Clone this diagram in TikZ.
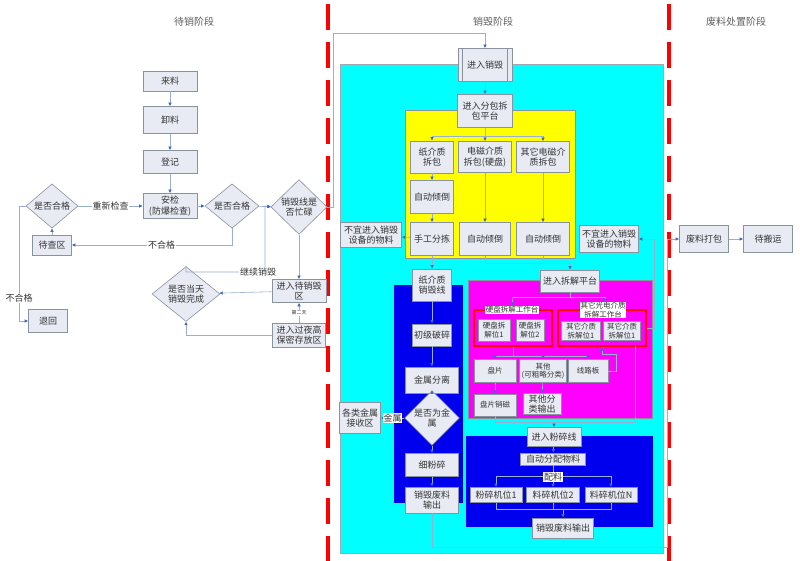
\documentclass[tikz,border=0pt]{standalone}
\usepackage{fontspec}
\newfontfamily\cjk{Noto Sans CJK SC}
\usetikzlibrary{arrows.meta,shapes.geometric,calc}
\definecolor{boxfill}{HTML}{E8EBF4}
\definecolor{boxdraw}{HTML}{8A929E}
\definecolor{txt}{HTML}{333333}
\definecolor{lnk}{HTML}{9AAFD0}
\definecolor{tipc}{HTML}{3C68C0}
\definecolor{cyanbg}{HTML}{00FFFF}
\definecolor{yel}{HTML}{FFFF00}
\definecolor{mag}{HTML}{FF00FF}
\definecolor{blu}{HTML}{0000EE}
\definecolor{ttlc}{HTML}{606060}
\begin{document}
\begin{tikzpicture}[x=1pt,y=-1pt,
 box/.style={draw=boxdraw, fill=boxfill, text=txt, font=\cjk\fontsize{9}{10.5}\selectfont, align=center, inner sep=0pt, line width=0.6pt},
 sbox/.style={box, font=\cjk\fontsize{7.5}{8.5}\selectfont},
 dia/.style={diamond, draw=boxdraw, fill=boxfill, text=txt, font=\cjk\fontsize{9}{10.5}\selectfont, align=center, inner sep=0pt, line width=0.6pt},
 redbox/.style={draw=red, line width=2.5pt, inner sep=0pt},
 lk/.style={draw=lnk, line width=0.6pt},
 ar/.style={lk, -{Latex[length=3.5pt,width=3.5pt,color=tipc]}},
 lab/.style={fill=white, text=txt, font=\cjk\fontsize{9}{10.5}\selectfont, inner sep=0.6pt, align=center},
 slab/.style={lab, font=\cjk\fontsize{7.5}{8.5}\selectfont},
 ttl/.style={text=ttlc, font=\cjk\fontsize{10}{11}\selectfont},
 reddash/.style={draw=red, line width=3.5pt, dash pattern=on 26pt off 12pt, dash phase=-4pt}
]
\useasboundingbox (0,0) rectangle (800,561);
\fill[white] (0,0) rectangle (800,561);

% titles
\node[ttl] (t1) at (194,22) {待销阶段};
\node[ttl] (t2) at (493,22) {销毁阶段};
\node[ttl] (t3) at (736,22) {废料处置阶段};

% coloured regions
\draw[fill=cyanbg, draw=boxdraw!80, line width=0.6pt] (340,64) rectangle (663,553);
\draw[fill=yel, draw=boxdraw, line width=0.6pt] (405,110) rectangle (575,258);
\fill[blu] (394,285) rectangle (463,503);
\draw[fill=mag, draw=boxdraw, line width=0.5pt] (468,280) rectangle (652,418);
\fill[blu] (466,436) rectangle (653,527);

% red dashed stage separators
\draw[reddash] (328,0) -- (328,561);
\draw[reddash] (669,0) -- (669,561);

% ---------- stage 1 ----------
\node[box, minimum width=54, minimum height=20] (ll) at (170,81) {来料};
\node[box, minimum width=54, minimum height=27] (xl) at (170,120) {卸料};
\node[box, minimum width=54, minimum height=23] (dj) at (170,162) {登记};
\node[box, minimum width=54, minimum height=25] (aj) at (170,206) {安检\\(防爆检查)};
\node[dia, minimum width=52, minimum height=25] (hg1) at (52,206) {是否合格};
\node[dia, minimum width=54, minimum height=25] (hg2) at (232,206) {是否合格};
\node[dia, minimum width=56, minimum height=53] (mang) at (299,207) {销毁线是\\否忙碌};
\node[box, minimum width=39, minimum height=20] (dcq) at (52,245) {待查区};
\node[box, minimum width=39, minimum height=23] (th) at (48,321) {退回};
\node[dia, minimum width=68, minimum height=32] (wc) at (186,294) {是否当天\\销毁完成};
\node[box, minimum width=54, minimum height=23] (dxh) at (299,291) {进入待销毁\\区};
\node[box, minimum width=53, minimum height=24] (gy) at (299,335) {进入过夜高\\保密存放区};

\draw[ar] (ll) -- (xl);
\draw[ar] (xl) -- (dj);
\draw[ar] (dj) -- (aj);
\draw[ar] (aj) -- (hg2);
\draw[ar] (hg2) -- (mang);
\draw[ar] (hg2.south) |- (dcq.east) node[lab, pos=0.72] {不合格};
\draw[ar] (dcq) -- (hg1);
\draw[ar] (hg1) -- (aj) node[lab, midway] {重新检查};
\draw[ar] (hg1.west) -- (19,206) |- (th.west) node[lab, pos=0.4] {不合格};
\draw[ar] (mang) -- (dxh);
\draw[ar] (dxh) -- (wc);
\draw[ar] (gy) -- (dxh) node[slab, midway, font=\cjk\fontsize{5}{6}\selectfont] {第二天};
\draw[ar] (gy.west) -| (wc.south);
\draw[ar] (wc.north) |- (265,272) -- (265,206) -- (mang.west);
\node[lab] (jx) at (258,272) {继续销毁};

% ---------- stage 2 ----------
\node[box, minimum width=54, minimum height=33] (jr) at (485,65) {进入销毁};
\draw[boxdraw, line width=0.6pt] ($(jr.north west)+(5,0)$) -- ($(jr.south west)+(5,0)$);
\draw[boxdraw, line width=0.6pt] ($(jr.north east)+(-5,0)$) -- ($(jr.south east)+(-5,0)$);
\draw[ar] (mang.east) -- (333,207) -- (333,33) -| (jr.north);
\node[box, minimum width=55, minimum height=33] (fb) at (485,111) {进入分包拆\\包平台};
\node[box, minimum width=43, minimum height=32] (z1) at (432,157) {纸介质\\拆包};
\node[box, minimum width=53, minimum height=31] (z2) at (485,157) {电磁介质\\拆包(硬盘)};
\node[box, minimum width=53, minimum height=31] (z3) at (543,157) {其它电磁介\\质拆包};
\node[box, minimum width=43, minimum height=33] (q1) at (432,197) {自动倾倒};
\node[box, minimum width=43, minimum height=33] (sg) at (432,239) {手工分拣};
\node[box, minimum width=51, minimum height=33] (q2) at (485,239) {自动倾倒};
\node[box, minimum width=53, minimum height=33] (q3) at (543,239) {自动倾倒};
\node[box, minimum width=61, minimum height=25] (by1) at (371,235) {不宜进入销毁\\设备的物料};
\node[box, minimum width=59, minimum height=27] (by2) at (609,239) {不宜进入销毁\\设备的物料};
\node[box, minimum width=39, minimum height=32] (zx) at (432,285) {纸介质\\销毁线};
\node[box, minimum width=39, minimum height=22] (cp) at (432,335) {初级破碎};
\node[box, minimum width=53, minimum height=26] (js) at (432,380) {金属分离};
\node[dia, minimum width=53, minimum height=32] (sf) at (432,418) {是否为金\\属};
\node[box, minimum width=41, minimum height=31] (jsq) at (360,418) {各类金属\\接收区};
\node[box, minimum width=53, minimum height=23] (xf) at (432,465) {细粉碎};
\node[box, minimum width=53, minimum height=26] (fl1) at (432,500) {销毁废料\\输出};

\node[box, minimum width=59, minimum height=22] (cj) at (570,281) {进入拆解平台};
\node[redbox, minimum width=78, minimum height=36] (rb1) at (513,328) {};
\node[redbox, minimum width=88, minimum height=36] (rb2) at (602,328) {};
\node[slab] (ypl) at (512,310) {硬盘拆解工作台};
\node[slab] (qtl) at (603,310) {其它光电介质\\拆解工作台};
\node[sbox, minimum width=32, minimum height=22] (y1) at (494,330) {硬盘拆\\解位1};
\node[sbox, minimum width=28, minimum height=22] (y2) at (530,330) {硬盘拆\\解位2};
\node[sbox, minimum width=39, minimum height=19] (o1) at (581,331) {其它介质\\拆解位1};
\node[sbox, minimum width=37, minimum height=19] (o2) at (622,331) {其它介质\\拆解位1};
\node[sbox, minimum width=42, minimum height=23] (pp) at (495,371) {盘片};
\node[sbox, minimum width=47, minimum height=23] (qt) at (543,371) {其他\\(可粗略分类)};
\node[sbox, minimum width=40, minimum height=23] (xlb) at (588,371) {线路板};
\node[sbox, minimum width=42, minimum height=22] (ppx) at (495,405) {盘片销磁};
\node[box, minimum width=38, minimum height=21] (qfl) at (542,404) {其他分\\类输出};

\node[box, minimum width=54, minimum height=19] (fsx) at (554,437) {进入粉碎线};
\node[box, minimum width=65, minimum height=12] (zdfp) at (553,459) {自动分配物料};
\node[box, minimum width=52, minimum height=15] (f1) at (496,495) {粉碎机位1};
\node[box, minimum width=53, minimum height=15] (f2) at (553,495) {料碎机位2};
\node[box, minimum width=52, minimum height=15] (fN) at (611,495) {料碎机位N};
\node[box, minimum width=61, minimum height=20] (fl2) at (563,528) {销毁废料输出};

% ---------- stage 3 ----------
\node[box, minimum width=49, minimum height=27] (fldb) at (704,239) {废料打包};
\node[box, minimum width=49, minimum height=27] (dby) at (768,239) {待搬运};

% connectors stage 2
\draw[ar] (jr) -- (fb);
\draw[lk] (fb.south) -- (485,136) coordinate (b0);
\draw[lk] (432,136) coordinate (b1) -- (543,136) coordinate (b3);
\draw[ar] (b1) -- (z1.north);
\draw[ar] (b0) -- (z2.north);
\draw[ar] (b3) -- (z3.north);
\draw[ar] (z1) -- (q1);
\draw[ar] (q1) -- (sg);
\draw[ar] (z2) -- (q2);
\draw[ar] (z3) -- (q3);
\draw[ar] (sg) -- (by1);
\draw[ar] (sg) -- (zx);
\draw[lk] (q2.south) -- (485,263) coordinate (m2) -- (570,263) coordinate (m3);
\draw[lk] (q3.south) -- (543,263);
\draw[ar] (m3) -- (cj.north);
\draw[ar] (zx) -- (cp);
\draw[ar] (cp) -- (js);
\draw[ar] (js) -- (sf);
\draw[ar] (sf) -- (jsq) node[lab, midway] {金属};
\draw[ar] (sf) -- (xf);
\draw[ar] (xf) -- (fl1);

\draw[lk] (cj.south) -- (570,297);
\draw[lk] (513,297) coordinate (c1) -- (606,297) coordinate (c2);
\draw[ar] (c1) -- (ypl.north);
\draw[ar] (c2) -- (qtl.north);
\draw[ar] (rb2.east) -- (654,328) -- (654,239) -- (by2.east);
\draw[lk] (rb1.south) -- (513,356);
\draw[lk] (495,356) coordinate (d1) -- (588,356) coordinate (d3);
\draw[ar] (d1) -- (pp.north);
\draw[ar] (543,356) -- (qt.north);
\draw[ar] (d3) -- (xlb.north);
\draw[ar] (xlb.east) -- (616,371) -- (616,354) -- (602,354) -- (rb2.south);
\draw[ar] (pp) -- (ppx);
\draw[ar] (qt) -- (qfl);
\draw[lk] (ppx.south) -- (495,422) -- (635,422) -- (635,346);
\draw[ar] (554,422) -- (fsx.north);

\draw[ar] (fsx) -- (zdfp);
\draw[lk] (zdfp.south) -- (553,476);
\draw[lk] (496,476) coordinate (e1) -- (611,476) coordinate (e3);
\draw[ar] (e1) -- (f1.north);
\draw[ar] (553,476) -- (f2.north);
\draw[ar] (e3) -- (fN.north);
\node[lab] (pl) at (553,477) {配料};
\draw[lk] (f1.south) -- (496,509) -- (611,509) -- (fN.south);
\draw[lk] (f2.south) -- (553,509);
\draw[ar] (563,509) -- (fl2.north);

\draw[ar] (fl1.south) -- (432,547) -- (667,547) -- (667,239) -- (fldb.west);
\draw[lk] (fl2.south) -- (563,547);
\draw[ar] (fldb) -- (dby);
\end{tikzpicture}
\end{document}
